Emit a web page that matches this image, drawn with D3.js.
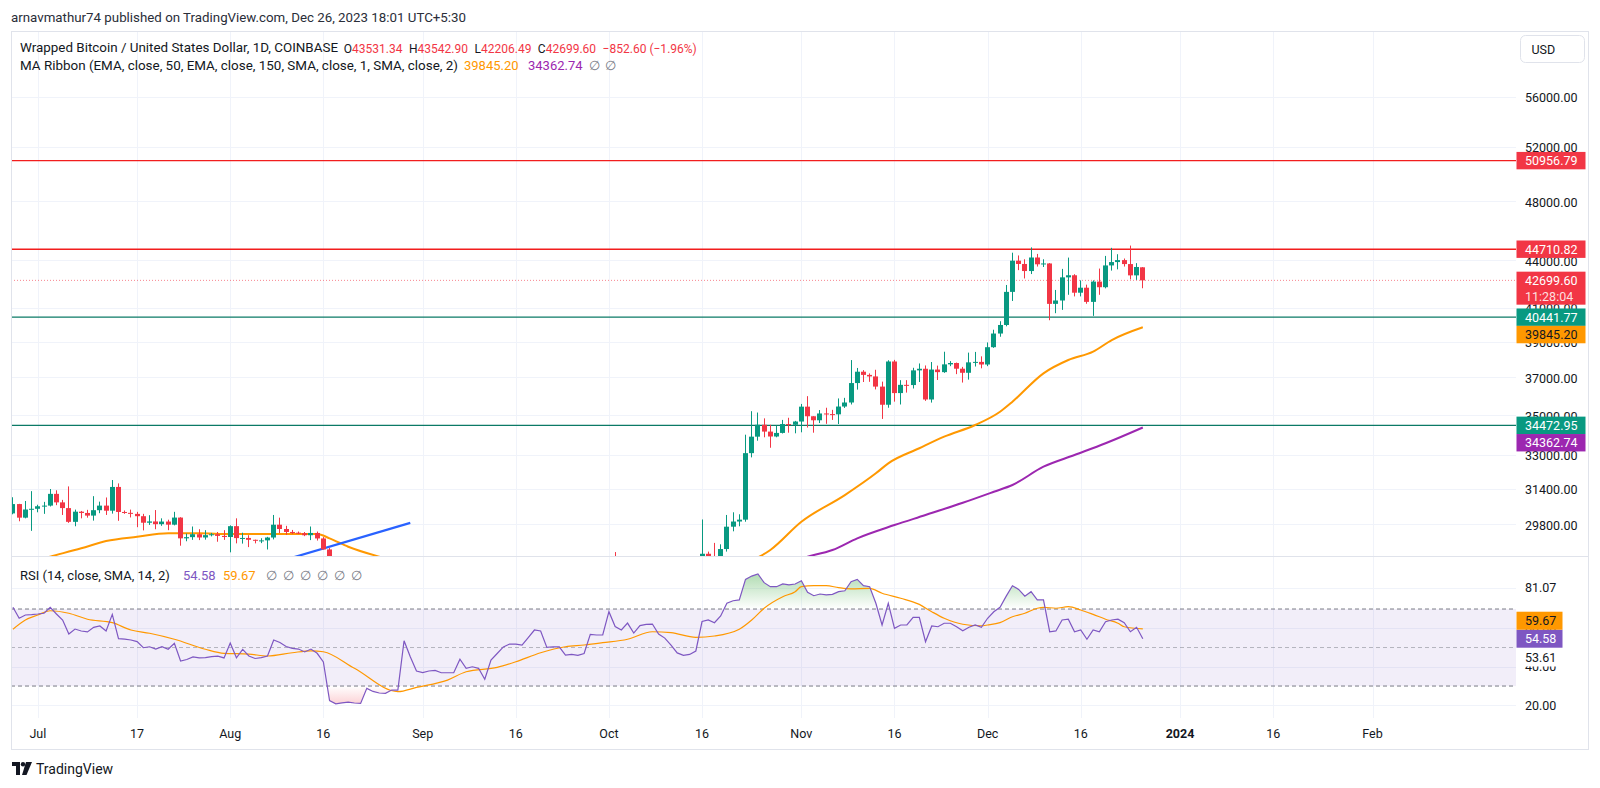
<!DOCTYPE html>
<html><head><meta charset="utf-8">
<script src="https://cdnjs.cloudflare.com/ajax/libs/d3/7.8.5/d3.min.js"></script>
<style>
html,body{margin:0;padding:0;background:#fff;}
svg{display:block;}
text{font-family:Roboto,"Liberation Sans",Arial,sans-serif;}
</style></head><body>
<svg id="c" width="1600" height="788"></svg>
<script>
// ---------------- DATA ----------------
const firstDay = "2023-06-27", lastDay = "2023-12-26";
// daily OHLC, Jun 27 .. Dec 26 2023
const open = [
 30270,30690,30080,30445,
 30477,30590,30620,31156,30767,30508,29895,30347,30290,30172,30414,30620,30391,31476,30334,30295,30249,30145,29856,29913,29792,29908,29771,30084,29176,29227,29354,29213,29314,29352,29281,
 29233,29705,29186,29193,29113,29072,29088,29211,29769,29581,29452,29421,29398,29310,29409,29171,28702,26664,26050,26100,26190,26124,26040,26430,26160,26060,26010,26090,26110,27726,27297,
 25931,25800,25869,25970,25813,25780,25753,26240,25906,25895,25832,25162,25840,26228,26533,26608,26568,26530,26762,27210,27125,26568,26580,26579,26256,26298,26217,26352,27021,26911,
 26967,27983,27530,27429,27794,27410,27931,27956,27917,27590,27392,26875,26757,26862,26852,27154,28519,28415,28328,28719,29682,29909,29992,33086,33901,34502,34156,33909,34089,34538,34502,
 34667,35437,34938,34732,35082,35049,35037,35443,35655,36693,37313,37138,37054,36502,35537,37880,36154,36596,36585,37387,37476,35814,37432,37289,37720,37796,37479,37254,37832,37858,
 37712,38688,39476,39978,41980,43960,43746,43292,44166,43725,43779,41244,41450,42890,43023,41929,42240,41365,42623,42270,43652,43869,43997,43740,43016,43531.34];
const high = [
 31000,30700,30830,31280,
 30660,30790,31380,31320,30880,31500,30440,30380,30430,31050,30800,30990,31800,31640,30400,30440,30340,30250,30190,30420,30050,29990,30340,30100,29380,29690,29570,29530,29410,29450,29530,
 29740,30050,29420,29310,29120,29180,29240,30200,30080,29720,29540,29470,29450,29690,29470,29230,28760,26810,26260,26300,26260,26135,26790,26560,26290,26100,26170,26220,28140,27760,27570,
 26140,25970,26130,26090,25880,26000,26440,26420,25940,25970,25880,26550,26400,26810,26850,26660,26620,27420,27490,27380,27160,26720,26620,26720,26430,26390,26820,27300,27240,27090,
 28060,28590,27660,27830,28120,28290,28030,28100,27990,27740,27480,26940,27100,26970,27300,30000,28610,28980,28920,30200,30320,30230,34000,35200,35130,34830,34500,34450,34750,34860,34700,
 35580,35990,34940,35260,35380,35270,35870,35900,37960,37520,37400,37220,37420,36770,37950,37970,36850,36850,37530,37770,37660,37850,37650,38430,37900,37820,37580,38380,38420,38170,
 38960,39700,40200,42410,44480,44300,44050,44830,44400,44050,43800,42100,43430,44160,43090,42700,42430,42700,43450,44270,44800,44380,44100,44950,43800,43542.90];
const low = [
 30230,29920,30050,29500,
 30320,30250,30580,30640,30200,29850,29700,30050,30080,29950,30280,30200,30260,29940,30250,30090,29660,29520,29760,29570,29720,29530,29740,28860,29050,29110,29100,29120,29260,29030,29110,
 28580,28960,28950,28800,28960,28970,28700,29130,29400,29330,29360,29360,29270,29100,29080,28700,25170,25810,25800,26000,25810,25350,25800,25860,25780,25980,25970,25860,25920,27070,25700,
 25330,25720,25800,25600,25570,25380,25610,25650,25800,25580,24900,25130,25770,26130,26230,26480,26400,26390,26680,26850,26360,26480,26510,26130,26000,26100,26110,26340,26680,26890,
 26950,27330,27170,27220,27370,27190,27860,27700,27300,27300,26560,26550,26690,26810,26820,27120,28100,28160,28180,28610,29480,29700,29900,32880,33700,33870,33350,33870,34060,34100,34070,
 34120,34360,34100,34590,34550,34750,34540,35370,35550,36340,36750,36760,36350,34800,35380,35700,35550,36180,36400,36750,35740,35650,36860,37250,37620,37180,36720,36880,37600,37500,
 37620,38650,39290,39900,41420,43350,42820,43100,43580,43550,40260,40680,40880,41800,41700,41700,41250,40520,41800,42200,43320,43400,43580,42760,42730,42206.49];
const close = [
 30690,30080,30445,30477,
 30590,30620,31156,30767,30508,29895,30347,30290,30172,30414,30620,30391,31476,30334,30295,30249,30145,29856,29913,29792,29908,29771,30084,29176,29227,29354,29213,29314,29352,29281,29233,
 29705,29186,29193,29113,29072,29088,29211,29769,29581,29452,29421,29398,29310,29409,29171,28702,26664,26050,26100,26190,26124,26040,26430,26160,26060,26010,26090,26110,27726,27297,25931,
 25800,25869,25970,25813,25780,25753,26240,25906,25895,25832,25162,25840,26228,26533,26608,26568,26530,26762,27210,27125,26568,26580,26579,26256,26298,26217,26352,27021,26911,26967,
 27983,27530,27429,27794,27410,27931,27956,27917,27590,27392,26875,26757,26862,26852,27154,28519,28415,28328,28719,29682,29909,29992,33086,33901,34502,34156,33909,34089,34538,34502,34667,
 35437,34938,34732,35082,35049,35037,35443,35655,36693,37313,37138,37054,36502,35537,37880,36154,36596,36585,37387,37476,35814,37432,37289,37720,37796,37479,37254,37832,37858,37712,
 38688,39476,39978,41980,43960,43746,43292,44166,43725,43779,41244,41450,42890,43023,41929,42240,41365,42623,42270,43652,43869,43997,43740,43016,43552.20,42699.60];

// EMA 50 (orange) and EMA 150 (purple), read at sample dates
const ema50Dates = ["2023-06-27","2023-07-03","2023-07-08","2023-07-12","2023-07-17","2023-07-22","2023-07-27","2023-08-01","2023-08-07","2023-08-15","2023-08-17","2023-08-20","2023-08-25","2023-09-05","2023-09-20","2023-10-05","2023-10-16","2023-10-22","2023-10-27","2023-11-01","2023-11-08","2023-11-13","2023-11-15","2023-11-20","2023-11-24","2023-11-29","2023-12-03","2023-12-05","2023-12-10","2023-12-14","2023-12-18","2023-12-21","2023-12-26"];
const ema50Values = [27970,28400,28750,29058,29245,29392,29392,29362,29362,29362,29176,28818,28398,27800,27300,27150,27450,28000,28678,29898,31100,32116,32592,33325,33899,34491,35174,35696,37224,37963,38433,39099,39845.20];
const ema150Dates = ["2023-06-27","2023-07-20","2023-08-15","2023-09-10","2023-10-05","2023-10-25","2023-11-02","2023-11-06","2023-11-10","2023-11-16","2023-11-21","2023-11-27","2023-12-02","2023-12-05","2023-12-10","2023-12-15","2023-12-20","2023-12-26"];
const ema150Values = [27400,27800,28050,27900,27700,27850,28400,28678,29176,29753,30197,30749,31253,31566,32430,32995,33572,34362.74];

// horizontal levels and trendline
const levelValues = [50956.79, 44710.82, 40441.77, 34472.95];
const levelKinds = ["resistance","resistance","support","support"];
const trendDates = ["2023-07-31","2023-08-30"];
const trendValues = [27525, 29850];

// RSI(14) daily, Jun 27 .. Dec 26
const rsi = [
 70.9,65.2,66.9,67.1,
 67.4,67.8,70.9,67.4,64.3,57.0,59.6,58.6,58.1,60.5,61.2,58.6,67.2,54.6,54.4,53.9,53.1,49.9,50.4,49.2,50.4,49.1,52.2,43.0,43.8,45.1,44.6,44.8,45.3,45.5,44.6,
 52.3,44.7,49.0,45.6,44.3,44.8,45.6,53.9,52.6,50.5,49.6,49.2,47.7,49.2,47.0,42.5,22.5,20.8,21.3,21.6,21.2,21.0,28.8,27.2,26.4,26.2,27.9,27.9,53.5,45.2,37.8,
 37.0,37.8,38.1,36.9,36.9,36.9,43.9,39.2,40.0,39.2,33.5,43.5,46.9,50.3,51.8,51.8,51.3,55.2,59.1,58.6,50.1,50.4,50.3,46.1,46.4,45.9,46.9,56.8,56.5,56.5,
 68.6,60.9,59.1,62.7,57.5,61.4,62.0,62.2,57.0,54.9,51.3,47.2,45.9,46.4,48.2,63.5,64.3,62.9,66.4,73.0,74.3,74.7,85.4,87.1,88.2,83.7,81.6,81.6,83.0,82.5,83.0,
 84.7,78.7,76.9,77.8,77.3,77.6,79.0,79.5,84.2,85.4,82.1,81.6,73.0,61.7,73.0,60.0,61.7,61.7,65.7,65.7,53.0,61.2,60.8,62.6,62.6,60.8,58.7,60.5,61.7,60.5,
 65.2,68.6,70.9,76.7,82.1,80.2,76.7,79.0,74.7,74.7,58.2,58.6,64.3,64.7,58.2,59.1,54.3,59.1,58.2,63.4,64.3,64.7,62.9,58.2,60.5,54.58];
// RSI-based SMA(14), read at sample dates
const rsiMaDates = ["2023-06-27","2023-06-29","2023-07-01","2023-07-03","2023-07-06","2023-07-09","2023-07-13","2023-07-16","2023-07-19","2023-07-23","2023-07-28","2023-07-31","2023-08-04","2023-08-07","2023-08-11","2023-08-14","2023-08-16","2023-08-21","2023-08-28","2023-08-31","2023-09-05","2023-09-08","2023-09-13","2023-09-16","2023-09-20","2023-09-24","2023-09-27","2023-09-30","2023-10-04","2023-10-08","2023-10-11","2023-10-15","2023-10-18","2023-10-22","2023-10-24","2023-10-26","2023-10-29","2023-10-31","2023-11-01","2023-11-03","2023-11-05","2023-11-07","2023-11-09","2023-11-12","2023-11-14","2023-11-17","2023-11-20","2023-11-22","2023-11-24","2023-11-27","2023-11-30","2023-12-01","2023-12-03","2023-12-05","2023-12-07","2023-12-09","2023-12-10","2023-12-12","2023-12-14","2023-12-16","2023-12-18","2023-12-20","2023-12-22","2023-12-23","2023-12-26"];
const rsiMaValues = [59.5,64.3,66.9,69.1,67.8,64.7,62.9,59.1,57.4,54.3,49.1,47.0,46.6,45.6,47.3,48.3,47.8,39.2,27.1,29.3,33.1,37.4,39.7,42.6,47.3,50.4,51.3,52.5,54.3,58.2,57.7,55.3,56.0,59.5,64.3,70.4,76.4,79.0,81.6,82.1,82.1,81.1,80.5,80.7,78.2,75.6,72.4,68.6,65.2,62.1,61.3,61.7,62.9,66.0,67.8,70.4,70.9,70.4,71.2,69.5,67.2,64.7,62.6,60.8,59.67];

// axes
const priceTicks = [56000,52000,48000,44000,41000,39000,37000,35000,33000,31400,29800];
const rsiTicks = [81.07,60,40,20];
const rsiBands = [70,50,30];
const timeTickDates = ["2023-07-01","2023-07-17","2023-08-01","2023-08-16","2023-09-01","2023-09-16","2023-10-01","2023-10-16","2023-11-01","2023-11-16","2023-12-01","2023-12-16","2024-01-01","2024-01-16","2024-02-01"];
const timeTickLabels = ["Jul","17","Aug","16","Sep","16","Oct","16","Nov","16","Dec","16","2024","16","Feb"];
const lastRsi = 54.58, lastRsiMa = 59.67, extraRsiLabel = "53.61";
const lastPrice = 42699.60, countdown = "11:28:04";

// ---------------- LAYOUT ----------------
const svg = d3.select("#c");
const L = 11, R = 1516, AXR = 1588, T = 31, PB = 556, RB = 718, BB = 749;
const C = {up:"#089981", down:"#f23645", grid:"#f0f3fa", border:"#e0e3eb", text:"#131722",
           ema50:"#ff9800", ema150:"#9c27b0", rsi:"#7e57c2", rsiMa:"#ff9800", blue:"#2962ff"};
const parse = d3.utcParse("%Y-%m-%d");
const dates = d3.utcDay.range(parse(firstDay), d3.utcDay.offset(parse(lastDay), 1));
const candles = dates.map((d, i) => ({d, o: open[i], h: high[i], l: low[i], c: close[i], r: rsi[i]}));
const N = candles.length;

const x = d3.scaleUtc().domain([parse("2023-07-01"), parse("2024-02-01")]).range([37.8, 1372.5]);
const y = d3.scaleLog().domain([56000, 29800]).range([96.7, 524]);
const yr = d3.scaleLinear().domain([20, 81.07]).range([705.3, 587.7]);

const defs = svg.append("defs");
defs.append("clipPath").attr("id", "clipP").append("rect").attr("x", L).attr("y", T).attr("width", R - L).attr("height", PB - T);
defs.append("clipPath").attr("id", "clipR").append("rect").attr("x", L).attr("y", PB).attr("width", R - L).attr("height", RB - PB);
defs.append("clipPath").attr("id", "clipOB").append("rect").attr("x", L).attr("y", PB).attr("width", R - L).attr("height", yr(70) - PB);
defs.append("clipPath").attr("id", "clipOS").append("rect").attr("x", L).attr("y", yr(30)).attr("width", R - L).attr("height", RB - yr(30));
const gUp = defs.append("linearGradient").attr("id", "gUp").attr("gradientUnits", "userSpaceOnUse")
  .attr("x1", 0).attr("x2", 0).attr("y1", yr(95)).attr("y2", yr(70));
gUp.append("stop").attr("offset", 0).attr("stop-color", "#4caf50").attr("stop-opacity", 0.6);
gUp.append("stop").attr("offset", 1).attr("stop-color", "#4caf50").attr("stop-opacity", 0.0);
const gDn = defs.append("linearGradient").attr("id", "gDn").attr("gradientUnits", "userSpaceOnUse")
  .attr("x1", 0).attr("x2", 0).attr("y1", yr(30)).attr("y2", yr(5));
gDn.append("stop").attr("offset", 0).attr("stop-color", "#f23645").attr("stop-opacity", 0.0);
gDn.append("stop").attr("offset", 1).attr("stop-color", "#f23645").attr("stop-opacity", 0.6);

svg.append("rect").attr("width", 1600).attr("height", 788).attr("fill", "#fff");

// header
svg.append("text").attr("x", 11).attr("y", 17).attr("dominant-baseline", "central")
  .attr("font-size", 13).attr("fill", "#2a2e39").attr("textLength", 455).attr("lengthAdjust", "spacingAndGlyphs")
  .text("arnavmathur74 published on TradingView.com, Dec 26, 2023 18:01 UTC+5:30");

// grids
const gGrid = svg.append("g");
timeTickDates.forEach(t => {
  const xx = Math.round(x(parse(t))) + 0.5;
  gGrid.append("line").attr("x1", xx).attr("x2", xx).attr("y1", T).attr("y2", RB).attr("stroke", C.grid);
});
priceTicks.forEach(p => {
  const yy = Math.round(y(p)) + 0.5;
  gGrid.append("line").attr("x1", L).attr("x2", R).attr("y1", yy).attr("y2", yy).attr("stroke", C.grid);
});
rsiTicks.forEach(v => {
  const yy = Math.round(yr(v)) + 0.5;
  gGrid.append("line").attr("x1", L).attr("x2", R).attr("y1", yy).attr("y2", yy).attr("stroke", C.grid);
});

// ---------- price pane ----------
const gP = svg.append("g").attr("clip-path", "url(#clipP)");
levelValues.forEach((v, i) => {
  gP.append("line").attr("x1", L).attr("x2", R).attr("y1", y(v)).attr("y2", y(v))
    .attr("stroke", levelKinds[i] === "resistance" ? "#f21d1d" : "#0b7a66").attr("stroke-width", 1.4);
});
gP.append("line").attr("x1", L).attr("x2", R).attr("y1", y(lastPrice)).attr("y2", y(lastPrice))
  .attr("stroke", C.down).attr("stroke-opacity", 0.6).attr("stroke-dasharray", "1,2");
const emaLine = d3.line().x(d => x(d[0])).y(d => y(d[1])).curve(d3.curveMonotoneX);
gP.append("path").attr("d", emaLine(ema50Dates.map((d, i) => [parse(d), ema50Values[i]])))
  .attr("fill", "none").attr("stroke", C.ema50).attr("stroke-width", 2);
gP.append("path").attr("d", emaLine(ema150Dates.map((d, i) => [parse(d), ema150Values[i]])))
  .attr("fill", "none").attr("stroke", C.ema150).attr("stroke-width", 2);
gP.append("line").attr("x1", x(parse(trendDates[0]))).attr("y1", y(trendValues[0]))
  .attr("x2", x(parse(trendDates[1]))).attr("y2", y(trendValues[1]))
  .attr("stroke", C.blue).attr("stroke-width", 2.2);
const gC = gP.append("g");
candles.forEach(k => {
  const xc = Math.floor(x(k.d));
  const col = k.c >= k.o ? C.up : C.down;
  gC.append("line").attr("x1", xc + 0.5).attr("x2", xc + 0.5).attr("y1", y(k.h)).attr("y2", y(k.l))
    .attr("stroke", col).attr("stroke-width", 1);
  const yt = y(Math.max(k.o, k.c)), yb = y(Math.min(k.o, k.c));
  gC.append("rect").attr("x", xc - 2).attr("width", 5).attr("y", yt).attr("height", Math.max(1, yb - yt)).attr("fill", col);
});

// ---------- RSI pane ----------
const gR = svg.append("g").attr("clip-path", "url(#clipR)");
gR.append("rect").attr("x", L).attr("width", R - L).attr("y", yr(70)).attr("height", yr(30) - yr(70))
  .attr("fill", "rgba(126,87,194,0.1)");
rsiBands.forEach(v => {
  gR.append("line").attr("x1", L).attr("x2", R).attr("y1", yr(v)).attr("y2", yr(v))
    .attr("stroke", "#787b86").attr("stroke-opacity", v === 50 ? 0.5 : 1).attr("stroke-dasharray", "4,3");
});
const rsiPts = candles.map(k => [k.d, k.r]);
gR.append("path").attr("clip-path", "url(#clipOB)")
  .attr("d", d3.area().x(d => x(d[0])).y0(yr(70)).y1(d => yr(d[1]))(rsiPts)).attr("fill", "url(#gUp)");
gR.append("path").attr("clip-path", "url(#clipOS)")
  .attr("d", d3.area().x(d => x(d[0])).y0(yr(30)).y1(d => yr(d[1]))(rsiPts)).attr("fill", "url(#gDn)");
gR.append("path").attr("d", d3.line().x(d => x(d[0])).y(d => yr(d[1])).curve(d3.curveMonotoneX)(rsiMaDates.map((d, i) => [parse(d), rsiMaValues[i]])))
  .attr("fill", "none").attr("stroke", C.rsiMa).attr("stroke-width", 1.2);
gR.append("path").attr("d", d3.line().x(d => x(d[0])).y(d => yr(d[1]))(rsiPts))
  .attr("fill", "none").attr("stroke", C.rsi).attr("stroke-width", 1.2);

// ---------- frame ----------
svg.append("rect").attr("x", L + 0.5).attr("y", T + 0.5).attr("width", AXR - L).attr("height", BB - T)
  .attr("fill", "none").attr("stroke", C.border);
svg.append("line").attr("x1", L).attr("x2", AXR).attr("y1", PB + 0.5).attr("y2", PB + 0.5).attr("stroke", C.border);

// ---------- legends ----------
function legText(xp, yp, str, fill, len) {
  const t = svg.append("text").attr("x", xp).attr("y", yp).attr("dominant-baseline", "central")
    .attr("font-size", 13).attr("fill", fill).text(str);
  if (len) t.attr("textLength", len).attr("lengthAdjust", "spacingAndGlyphs");
  return t;
}
const chg = close[N - 1] - close[N - 2];
legText(20, 47.5, "Wrapped Bitcoin / United States Dollar, 1D, COINBASE", C.text, 318);
const leg1 = svg.append("text").attr("x", 343.8).attr("y", 47.5).attr("dominant-baseline", "central")
  .attr("font-size", 13).attr("fill", C.text).attr("textLength", 353).attr("lengthAdjust", "spacingAndGlyphs");
[["O", open[N - 1]], ["H", high[N - 1]], ["L", low[N - 1]], ["C", close[N - 1]]].forEach(([lab, v], i) => {
  leg1.append("tspan").attr("dx", i === 0 ? 0 : 7).text(lab);
  leg1.append("tspan").attr("fill", C.down).text(v.toFixed(2));
});
leg1.append("tspan").attr("dx", 7).attr("fill", C.down)
  .text("\u2212" + Math.abs(chg).toFixed(2) + " (\u2212" + (Math.abs(chg) / close[N - 2] * 100).toFixed(2) + "%)");

legText(20, 65.5, "MA Ribbon (EMA, close, 50, EMA, close, 150, SMA, close, 1, SMA, close, 2)", C.text, 438);
legText(464, 65.5, ema50Values[ema50Values.length - 1].toFixed(2), C.ema50);
legText(528, 65.5, ema150Values[ema150Values.length - 1].toFixed(2), C.ema150);
legText(589, 65.5, "\u2205", "#787b86");
legText(605, 65.5, "\u2205", "#787b86");

legText(20, 575, "RSI (14, close, SMA, 14, 2)", C.text);
legText(183, 575, lastRsi.toFixed(2), C.rsi);
legText(223, 575, lastRsiMa.toFixed(2), C.rsiMa);
[265.6, 283, 300, 317, 334, 351].forEach(xp => legText(xp, 575, "\u2205", "#787b86"));

// ---------- price axis ----------
const AXT = 1525, FS = 12.5;
svg.append("rect").attr("x", 1520.5).attr("y", 35.5).attr("width", 64).attr("height", 27).attr("rx", 5)
  .attr("fill", "#fff").attr("stroke", C.border);
svg.append("text").attr("x", 1531.5).attr("y", 49).attr("dominant-baseline", "central").attr("font-size", FS).attr("fill", C.text).text("USD");
priceTicks.forEach(p => {
  svg.append("text").attr("x", AXT).attr("y", y(p) + 1).attr("dominant-baseline", "central")
    .attr("font-size", FS).attr("fill", C.text).text(d3.format(".2f")(p));
});
const BH = 17.4;
const pLabels = [
  {v: levelValues[0], fill: "#f23645", tc: "#fff", lines: [levelValues[0].toFixed(2)]},
  {v: levelValues[1], fill: "#f23645", tc: "#fff", lines: [levelValues[1].toFixed(2)]},
  {v: lastPrice, fill: "#f23645", tc: "#fff", lines: [lastPrice.toFixed(2), countdown]},
  {v: levelValues[2], fill: "#089981", tc: "#fff", lines: [levelValues[2].toFixed(2)]},
  {v: ema50Values[ema50Values.length - 1], fill: "#ff9800", tc: C.text, lines: [ema50Values[ema50Values.length - 1].toFixed(2)]},
  {v: levelValues[3], fill: "#089981", tc: "#fff", lines: [levelValues[3].toFixed(2)]},
  {v: ema150Values[ema150Values.length - 1], fill: "#9c27b0", tc: "#fff", lines: [ema150Values[ema150Values.length - 1].toFixed(2)]}
];
let prevBottom = -1e9;
pLabels.forEach(lb => {
  let top = y(lb.v) - BH / 2;
  const hgt = lb.lines.length === 1 ? BH : 33;
  if (top < prevBottom) top = prevBottom;
  prevBottom = top + hgt;
  svg.append("rect").attr("x", 1516.5).attr("y", top).attr("width", 69).attr("height", hgt).attr("fill", lb.fill);
  lb.lines.forEach((s, j) => {
    svg.append("text").attr("x", AXT).attr("y", top + BH / 2 + j * 16).attr("dominant-baseline", "central")
      .attr("font-size", FS).attr("fill", lb.tc).attr("fill-opacity", j === 1 ? 0.85 : 1).text(s);
  });
});

// ---------- RSI axis ----------
rsiTicks.forEach(v => {
  svg.append("text").attr("x", AXT).attr("y", yr(v)).attr("dominant-baseline", "central")
    .attr("font-size", FS).attr("fill", C.text).text(v.toFixed(2));
});
const rsiTop = yr(lastRsi) - 9;
svg.append("rect").attr("x", 1516.5).attr("y", rsiTop).attr("width", 46).attr("height", 18).attr("fill", C.rsi);
svg.append("text").attr("x", AXT).attr("y", rsiTop + 9).attr("dominant-baseline", "central").attr("font-size", FS).attr("fill", "#fff").text(lastRsi.toFixed(2));
const maTop = Math.min(yr(lastRsiMa) - 9, rsiTop - 18);
svg.append("rect").attr("x", 1516.5).attr("y", maTop).attr("width", 46).attr("height", 18).attr("fill", C.rsiMa);
svg.append("text").attr("x", AXT).attr("y", maTop + 9).attr("dominant-baseline", "central").attr("font-size", FS).attr("fill", C.text).text(lastRsiMa.toFixed(2));
svg.append("rect").attr("x", 1520).attr("y", rsiTop + 18.5).attr("width", 40).attr("height", 666.5 - (rsiTop + 18.5)).attr("fill", "#fff");
svg.append("text").attr("x", AXT).attr("y", rsiTop + 28).attr("dominant-baseline", "central").attr("font-size", FS).attr("fill", C.text).text(extraRsiLabel);

// ---------- time axis ----------
timeTickDates.forEach((t, i) => {
  svg.append("text").attr("x", x(parse(t))).attr("y", 733).attr("text-anchor", "middle").attr("dominant-baseline", "central")
    .attr("font-size", FS).attr("font-weight", timeTickLabels[i] === "2024" ? "bold" : "normal").attr("fill", C.text).text(timeTickLabels[i]);
});

// ---------- footer logo ----------
const logo = svg.append("g").attr("transform", "translate(12,762)").attr("fill", "#131722");
logo.append("path").attr("d", "M0,0 H8 V13 H4 V4 H0 Z");
logo.append("circle").attr("cx", 11).attr("cy", 2.2).attr("r", 2.2);
logo.append("path").attr("d", "M14,0 H20 L14.5,13 H10 Z");
svg.append("text").attr("x", 36).attr("y", 769).attr("dominant-baseline", "central").attr("font-size", 14).attr("fill", "#131722").text("TradingView");
</script>
</body></html>
